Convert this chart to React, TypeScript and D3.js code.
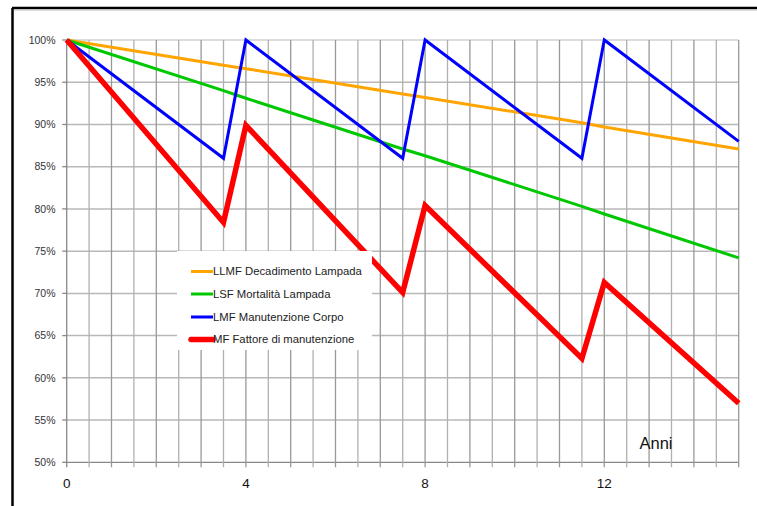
import React from "react";
import * as d3 from "d3";

const years = [0, 3.5, 4, 7.5, 8, 11.5, 12, 15];
const llmf = [100, 97.0, 96.6, 93.6, 93.2, 90.2, 89.7, 87.1];
const lsf = [100, 94.0, 93.1, 87.1, 86.3, 80.3, 79.4, 74.2];
const lmf = [100, 86, 100, 86, 100, 86, 100, 88];
const mf = [100, 78.4, 89.9, 70.1, 80.4, 62.3, 71.3, 57.0];

const seriesNames = [
  "LLMF Decadimento Lampada",
  "LSF Mortalità Lampada",
  "LMF Manutenzione Corpo",
  "MF Fattore di manutenzione",
];
const seriesColors = ["#ffa500", "#00c800", "#0000ff", "#ff0000"];
const seriesWidths = [3, 3, 3, 5.5];

const yTicks = [50, 55, 60, 65, 70, 75, 80, 85, 90, 95, 100];
const xLabels = [0, 4, 8, 12];
const xTitle = "Anni";

export default function App() {
  const W = 757, H = 506;
  const x = d3.scaleLinear().domain([0, 15]).range([66.7, 738.7]);
  const y = d3.scaleLinear().domain([50, 100]).range([462.3, 40]);
  const allSeries = [llmf, lsf, lmf, mf];
  const line = d3
    .line<[number, number]>()
    .x((d) => x(d[0]))
    .y((d) => y(d[1]));
  const vGrid = d3.range(0.5, 15.01, 0.5);
  const font = "'Liberation Sans', Arial, sans-serif";

  return (
    <svg
      width={W}
      height={H}
      style={{ position: "absolute", left: 0, top: 0, display: "block", background: "#fff" }}
      fontFamily={font}
    >
      {/* frame */}
      <line x1={12.5} y1={8} x2={12.5} y2={H} stroke="#000" strokeWidth={2.5} />
      <line x1={12} y1={8} x2={W} y2={8} stroke="#000" strokeWidth={2.5} />
      <line x1={14} y1={10} x2={W} y2={10} stroke="#bbb" strokeWidth={1} />

      {/* horizontal grid */}
      {yTicks.map((t) => (
        <line
          key={"h" + t}
          x1={x(0)}
          x2={x(15)}
          y1={y(t)}
          y2={y(t)}
          stroke={t === 100 ? "#d0d0d0" : t === 50 ? "#888" : "#b8b8b8"}
          strokeWidth={t === 50 ? 1.3 : 1.5}
        />
      ))}
      {/* vertical grid */}
      {vGrid.map((v) => (
        <line
          key={"v" + v}
          x1={x(v)}
          x2={x(v)}
          y1={y(100)}
          y2={y(50) + 5}
          stroke={Number.isInteger(v) ? "#999" : "#b0b0b0"}
          strokeWidth={1.3}
        />
      ))}
      {/* y axis */}
      <line x1={x(0)} x2={x(0)} y1={y(100)} y2={y(50) + 5} stroke="#888" strokeWidth={1.3} />
      {yTicks.map((t) => (
        <g key={"yt" + t}>
          <line x1={x(0) - 4.5} x2={x(0)} y1={y(t)} y2={y(t)} stroke="#888" strokeWidth={1.3} />
          <text
            x={55.5}
            y={y(t)}
            dy="0.35em"
            textAnchor="end"
            fontSize={10.5}
            fill="#333"
          >
            {t}%
          </text>
        </g>
      ))}
      {xLabels.map((v) => (
        <text key={"xl" + v} x={x(v)} y={483} dy="0.35em" textAnchor="middle" fontSize={13.5} fill="#111">
          {v}
        </text>
      ))}
      <text x={656} y={443} dy="0.35em" textAnchor="middle" fontSize={16.5} fill="#111">
        {xTitle}
      </text>

      {/* series */}
      {allSeries.map((s, i) => (
        <path
          key={"s" + i}
          d={line(years.map((yr, j) => [yr, s[j]] as [number, number])) || ""}
          fill="none"
          stroke={seriesColors[i]}
          strokeWidth={seriesWidths[i]}
          strokeLinejoin="miter"
        />
      ))}

      {/* legend */}
      <rect x={177} y={251} width={195} height={99} fill="#fff" />
      {seriesNames.map((n, i) => {
        const ly = [271.5, 294, 317, 339.5][i];
        return (
          <g key={"lg" + i}>
            <line
              x1={191}
              x2={213}
              y1={ly}
              y2={ly}
              stroke={seriesColors[i]}
              strokeWidth={seriesWidths[i]}
              strokeLinecap={i === 3 ? "round" : "butt"}
            />
            <text x={213} y={ly} dy="0.35em" fontSize={11.3} fill="#222">
              {n}
            </text>
          </g>
        );
      })}
    </svg>
  );
}
